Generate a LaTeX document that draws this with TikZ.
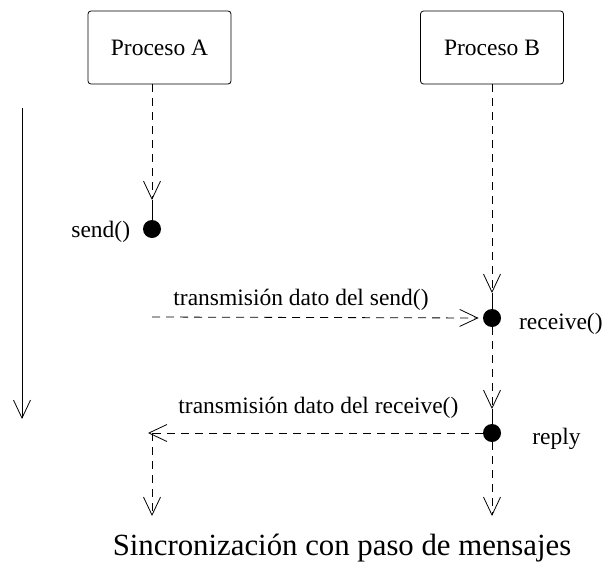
\documentclass[tikz,border=0pt]{standalone}
\usepackage{fontspec}
\setmainfont{Liberation Serif}
\usetikzlibrary{arrows.meta}

\begin{document}
\begin{tikzpicture}[x=1pt,y=-1pt,line width=0.8pt,
  proc/.style={draw, rounded corners=3pt, minimum width=143pt, minimum height=73pt,
    inner sep=0pt, font=\fontsize{23.5}{28}\selectfont},
  event/.style={circle, fill=black, minimum size=18pt, inner sep=0pt},
  lbl/.style={font=\fontsize{23.5}{28}\selectfont, inner sep=0pt},
  flow/.style={dash pattern=on 8pt off 6pt},
  vtip/.style={-{Straight Barb[length=18pt,width=17pt]}}
]
\useasboundingbox (0,0) rectangle (604,562);

% processes
\node[proc] (procA) at (159.5,47.5) {Proceso A};
\node[proc] (procB) at (492,47.5) {Proceso B};

% events on the lifelines
\node[event] (sendDot) at (152,229) {};
\node[event] (recvDot) at (492,318) {};
\node[event] (replyDot) at (492,433) {};

% helper points
\coordinate (aTop) at (152,84);
\coordinate (aTip) at (152,200);
\coordinate (bTip1) at (492,293);
\coordinate (bTip2) at (492,409);
\coordinate (sendFrom) at (152,317);
\coordinate (replyTo) at (148,433);
\coordinate (aJoin) at (152,433);
\coordinate (aEnd) at (152,516);
\coordinate (bEnd) at (492,516);
\coordinate (timeTop) at (22,108);
\coordinate (timeEnd) at (22,419);

% time axis
\draw[vtip] (timeTop) -- (timeEnd);

% lifeline of A
\draw[flow,vtip] (aTop) -- (aTip);
\draw (aTip) -- (sendDot.north);
\draw[flow,vtip] (aJoin) -- (aEnd);

% lifeline of B
\draw[flow,vtip] (procB.south) -- (bTip1);
\draw (bTip1) -- (recvDot.north);
\draw[flow,vtip] (recvDot.south) -- (bTip2);
\draw (bTip2) -- (replyDot.north);
\draw[flow,vtip] (replyDot.south) -- (bEnd);

% messages
\draw[flow,vtip,shorten >=4pt] (sendFrom) -- (recvDot.west);
\draw[flow,vtip] (replyDot.west) -- (replyTo);

% labels
\node[lbl, anchor=base west] (sendLbl) at (71,237) {send()};
\node[lbl, anchor=base east] (recvLbl) at (603,329) {receive()};
\node[lbl, anchor=base west] (replyLbl) at (532,444) {reply};
\node[lbl, anchor=base west] (msg1Lbl) at (173,305) {transmisión dato del send()};
\node[lbl, anchor=base west] (msg2Lbl) at (178,413) {transmisión dato del receive()};
\node[inner sep=0pt, anchor=base, font=\fontsize{30.8}{36}\selectfont] (caption) at (342,555)
  {Sincronización con paso de mensajes};
\end{tikzpicture}
\end{document}
